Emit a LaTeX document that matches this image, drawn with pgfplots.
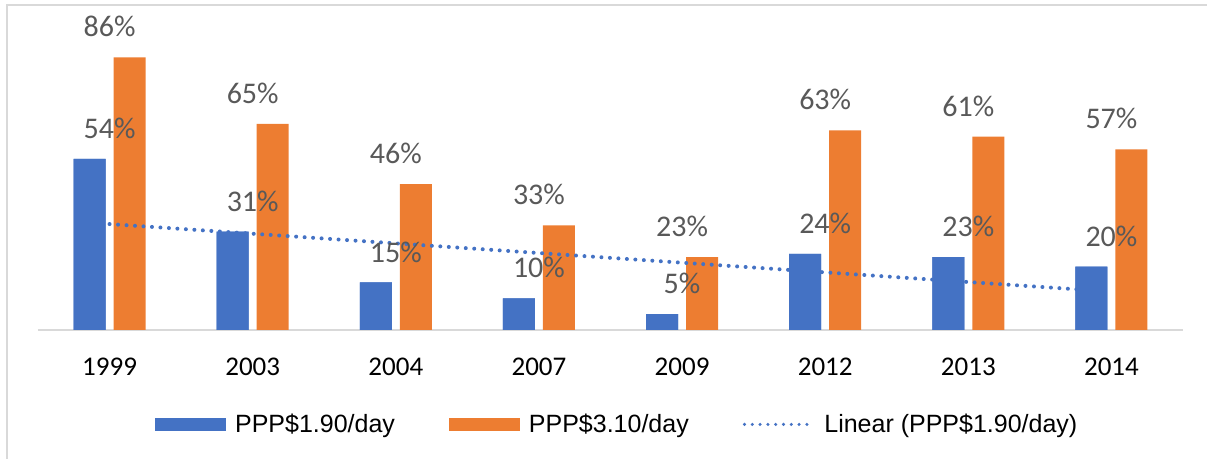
\documentclass[border=0pt]{standalone}
\usepackage{pgfplots}
\pgfplotsset{compat=1.18}
\usepackage{fontspec}
\setmainfont{Carlito}
\newfontfamily\legendfont{Liberation Sans}

\definecolor{cblue}{HTML}{4472C4}
\definecolor{corange}{HTML}{ED7D31}
\definecolor{labgray}{HTML}{595959}
\definecolor{linegray}{HTML}{D9D9D9}

\begin{document}
\begin{tikzpicture}
\useasboundingbox (-19pt,-64.5pt) rectangle (584.5pt,165pt);
\draw[linegray, line width=1pt] (-15.5pt,-70pt) -- (-15.5pt,162.5pt) -- (590pt,162.5pt);

\begin{axis}[
    at={(0pt,0pt)}, anchor=south west,
    scale only axis,
    width=572.5pt, height=142.65pt,
    xmin=-0.5, xmax=7.5,
    ymin=0, ymax=90,
    clip=false,
    hide y axis,
    axis x line*=bottom,
    x axis line style={draw=linegray, line width=1pt},
    xtick={0,...,7},
    xticklabels={1999,2003,2004,2007,2009,2012,2013,2014},
    xtick style={draw=none},
    xticklabel style={font=\fontsize{13.5}{16}\selectfont, inner sep=0pt, anchor=north, yshift=-14pt},
    /pgf/number format/assume math mode=true,
    nodes near coords={\pgfmathprintnumber{\pgfplotspointmeta}\%},
    nodes near coords style={font=\fontsize{15}{17}\selectfont, text=labgray, inner sep=0pt, text depth=0pt, anchor=south, yshift=10pt},
    legend columns=3,
    legend style={at={(0.505,-0.331)}, anchor=center, draw=none, fill=none,
        font=\legendfont\fontsize{12.5}{15}\selectfont,
        nodes={inner sep=0pt},
        /tikz/every odd column/.append style={column sep=4.5pt},
        /tikz/every even column/.append style={column sep=27pt}},
]

% 1: PPP$1.90/day (drawn again on top below)
\addplot[ybar, bar width=16pt, bar shift=-10pt, fill=cblue, draw=none, nodes near coords={},
    legend image code/.code={\fill[cblue] (0pt,-3.25pt) rectangle (35.5pt,3.25pt);}]
coordinates {(0,54) (1,31) (2,15) (3,10) (4,5) (5,24) (6,23) (7,20)};

% 2: PPP$3.10/day
\addplot[ybar, bar width=16pt, bar shift=10pt, fill=corange, draw=none,
    legend image code/.code={\fill[corange] (0pt,-3.25pt) rectangle (35.5pt,3.25pt);}]
coordinates {(0,86) (1,65) (2,46) (3,33) (4,23) (5,63) (6,61) (7,57)};

% 3: linear trend of PPP$1.90/day
\addplot[cblue, line width=2pt, line cap=round, dash pattern=on 0pt off 4.25pt, nodes near coords={},
    legend image code/.code={\draw[cblue, line width=1.7pt, line cap=round, dash pattern=on 0pt off 3.9pt] (0.9pt,0pt) -- (35.5pt,0pt);}]
coordinates {(0,33.42) (6.96,12.21)};

\addplot[ybar, bar width=16pt, bar shift=-10pt, fill=cblue, draw=none, forget plot]
coordinates {(0,54) (1,31) (2,15) (3,10) (4,5) (5,24) (6,23) (7,20)};

\legend{PPP\$1.90/day, PPP\$3.10/day, Linear (PPP\$1.90/day)}
\end{axis}
\end{tikzpicture}
\end{document}
